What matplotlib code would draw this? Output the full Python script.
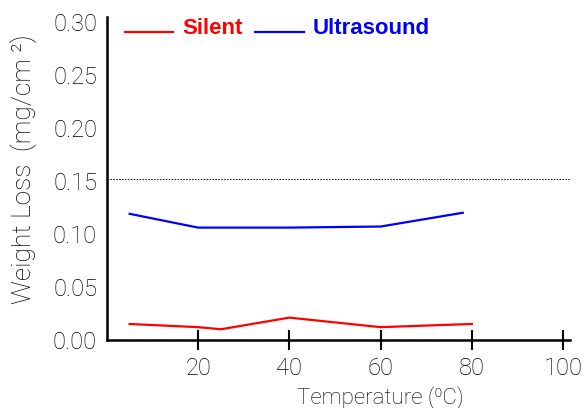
import matplotlib.pyplot as plt
from matplotlib.lines import Line2D
from matplotlib.legend_handler import HandlerLine2D

plt.rcParams['font.family'] = ['Roboto', 'DejaVu Sans']
plt.rcParams['font.weight'] = 'light'

# Data
silent_temp = [5, 20, 25, 40, 60, 80]
silent_loss = [0.015, 0.012, 0.010, 0.021, 0.012, 0.015]
ultra_temp = [5, 20, 40, 60, 78]
ultra_loss = [0.119, 0.106, 0.106, 0.107, 0.120]
ref_level = 0.152
x_ticks = [20, 40, 60, 80, 100]
y_ticks = [0.00, 0.05, 0.10, 0.15, 0.20, 0.25, 0.30]


# legend line drawn at the text baseline, like an underline
class BaselineLine(HandlerLine2D):
    def create_artists(self, legend, orig_handle, xdescent, ydescent,
                       width, height, fontsize, trans):
        artists = super().create_artists(legend, orig_handle, xdescent, ydescent,
                                         width, height, fontsize, trans)
        for a in artists:
            a.set_ydata([1.5] * len(a.get_xdata()))
        return artists


fig = plt.figure(figsize=(5.87, 4.08), dpi=100)
ax = fig.add_axes([0.182, 0.167, 0.789, 0.791])

ax.plot(silent_temp, silent_loss, color='#ff0000', lw=1.6, label='Silent')
ax.plot(ultra_temp, ultra_loss, color='#0000ff', lw=1.6, label='Ultrasound')
ax.axhline(ref_level, color='black', lw=0.7, ls=(0, (1.5, 1.5)))

ax.set_xlim(0, 101.5)
ax.set_ylim(0, 0.3047)
ax.set_xticks(x_ticks)
ax.set_yticks(y_ticks)
ax.set_yticklabels([f'{v:.2f}' for v in y_ticks])

for s in ['top', 'right']:
    ax.spines[s].set_visible(False)
for s in ['left', 'bottom']:
    ax.spines[s].set_linewidth(1.8)

ax.tick_params(axis='x', direction='inout', length=14, width=1.5, pad=5,
               labelsize=17, colors='black')
ax.tick_params(axis='y', length=0, pad=7, labelsize=17, labelcolor='black')

ax.set_xlabel('Temperature (\u2070C)', fontsize=16, color='black',
              fontweight='light')
ax.xaxis.set_label_coords(0.59, -0.145)
ax.set_ylabel('Weight Loss  (mg/cm \u00b2)', fontsize=19, color='black',
              fontweight='light')
ax.yaxis.set_label_coords(-0.151, 0.53)

leg = ax.legend(loc='upper left', bbox_to_anchor=(-0.005, 1.06), ncol=2,
                frameon=False, handlelength=2.2, handletextpad=0.4,
                columnspacing=0.55, labelcolor='linecolor',
                handler_map={Line2D: BaselineLine()},
                prop={'family': ['Liberation Sans'], 'weight': 'bold', 'size': 16})

fig.savefig('out.png', dpi=100)
